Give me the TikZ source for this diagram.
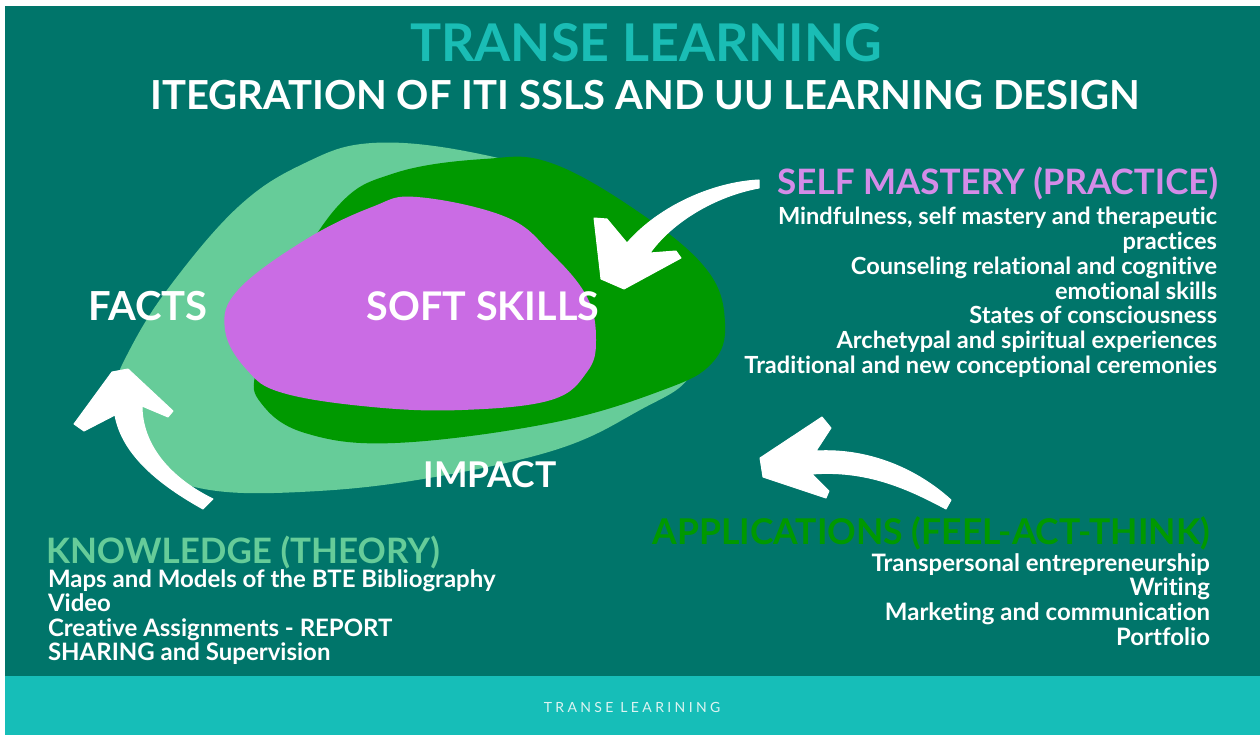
\documentclass[tikz,border=0pt]{standalone}
\usepackage{fontspec}
\setmainfont{Lato}[Ligatures={NoCommon}]
\definecolor{bgteal}{HTML}{00756A}
\definecolor{band}{HTML}{16BEB8}
\definecolor{titlecol}{HTML}{1ABDB5}
\definecolor{lightgreen}{HTML}{66CC99}
\definecolor{darkgreen}{HTML}{009900}
\definecolor{softpurple}{HTML}{CA6CE4}
\definecolor{headpurple}{HTML}{D48CE8}
\definecolor{footcol}{HTML}{DDF4F2}
\tikzset{
  txt/.style={inner sep=0pt, outer sep=0pt},
  titletxt/.style={txt, text=titlecol, font=\fontsize{52}{52}\selectfont\bfseries},
  subtxt/.style={txt, text=white, font=\fontsize{40}{40}\selectfont\bfseries},
  headtxt/.style={txt, font=\fontsize{#1}{#1}\selectfont\bfseries},
  bodytxt/.style={txt, text=white, font=\fontsize{#1}{25}\selectfont\bfseries},
  blobtxt/.style={txt, text=white, font=\fontsize{#1}{#1}\selectfont\bfseries},
  arrowshape/.style={fill=white, draw=white, line width=1pt, line join=round},
  blob/.style={smooth cycle, tension=0.65}
}
\begin{document}
\begin{tikzpicture}[x=1pt,y=-1pt]
\useasboundingbox (0,0) rectangle (1260,735);
\fill[white] (0,0) rectangle (1260,735);
\fill[bgteal] (5,6) rectangle (1260,676);
\fill[band] (5,676) rectangle (1260,735);

% blobs
\fill[lightgreen] plot[blob] coordinates {(372,143) (470,152) (560,180) (650,240) (700,320) (690,376) (640,410) (555,450) (417,480) (300,492) (210,490) (160,470) (125,428) (118,385) (127,355) (167,290) (238,207) (305,163)};
\fill[darkgreen] plot[blob] coordinates {(337,207) (395,173) (484,159) (551,163) (640,213) (707,270) (725,323) (712,363) (663,390) (551,423) (395,443) (305,433) (261,403) (256,370) (280,300)};
\fill[softpurple] plot[blob] coordinates {(417,197) (506,217) (551,253) (587,297) (596,340) (587,372) (551,400) (462,410) (372,407) (283,393) (247,370) (225,330) (238,290) (305,240) (372,207)};

% arrows
\fill[arrowshape] (759,180) .. controls (715,182) and (660,205) .. (627,243)
  -- (607,219) -- (594,218) -- (601,279) -- (624,289) -- (681,258) -- (676,251) -- (650,253)
  .. controls (672,222) and (715,196) .. (759,188) -- cycle;
\fill[arrowshape] (112,372) -- (128,369) -- (173,411) -- (168,417) -- (142,406)
  .. controls (142,445) and (170,478) .. (213,499) -- (203,509)
  .. controls (160,485) and (122,455) .. (115,415) -- (84,431) -- (74,424) -- cycle;
\fill[arrowshape] (822,417) -- (831,428) -- (816,451)
  .. controls (870,448) and (918,470) .. (951,500) -- (946,509)
  .. controls (905,487) and (865,470) .. (812,474)
  -- (829,491) -- (826,498) -- (763,477) -- (760,458) -- cycle;

% titles
\node[titletxt, anchor=base] (title) at (646,62) {TRANSE LEARNING};
\node[subtxt, anchor=base] (subtitle) at (645,110) {ITEGRATION OF ITI SSLS AND UU LEARNING DESIGN};

% blob labels
\node[blobtxt=40, anchor=base] (facts) at (148,320) {FACTS};
\node[blobtxt=39.5, anchor=base] (soft) at (483,320) {SOFT SKILLS};
\node[blobtxt=35.5, anchor=base] (impact) at (490,487) {IMPACT};

% self mastery
\node[headtxt=35, text=headpurple, anchor=base east] (smh) at (1218,195) {SELF MASTERY (PRACTICE)};
\foreach \t [count=\i] in {{Mindfulness, self mastery and therapeutic},{practices},{Counseling relational and cognitive},{emotional skills},{States of consciousness},{Archetypal and spiritual experiences},{Traditional and new conceptional ceremonies}}
  \node[bodytxt=23.6, anchor=base east] (sm\i) at (1217,{225+24.7*(\i-1)}) {\t};

% knowledge
\node[headtxt=35, text=lightgreen, anchor=base west] (kh) at (46,563) {KNOWLEDGE (THEORY)};
\foreach \t [count=\i] in {{Maps and Models of the BTE Bibliography},{Video},{Creative Assignments - REPORT},{SHARING and Supervision}}
  \node[bodytxt=24, anchor=base west] (kn\i) at (48,{587+24.5*(\i-1)}) {\t};

% applications
\node[headtxt=35.5, text=darkgreen, anchor=base east] (ah) at (1210,544) {APPLICATIONS (FEEL-ACT-THINK)};
\foreach \t [count=\i] in {{Transpersonal entrepreneurship},{Writing},{Marketing and communication},{Portfolio}}
  \node[bodytxt=24, anchor=base east] (ap\i) at (1210,{571+24.8*(\i-1)}) {\t};

% footer
\node[txt, text=footcol, anchor=base, font=\fontsize{14}{14}\selectfont\addfontfeatures{LetterSpace=24}] (foot) at (632,712) {TRANSE LEARINING};
\end{tikzpicture}
\end{document}
